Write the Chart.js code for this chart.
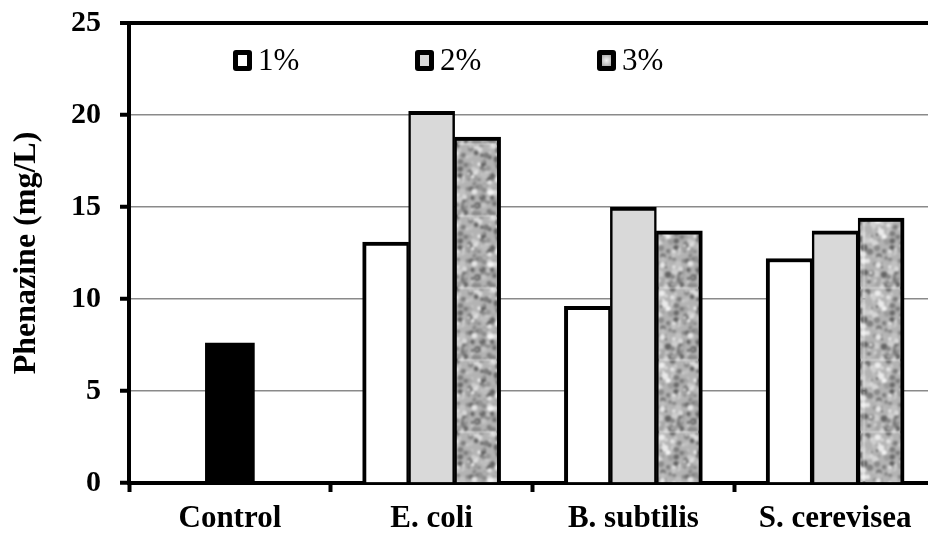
<!DOCTYPE html>
<html>
<head>
<meta charset="utf-8">
<script src="https://cdn.jsdelivr.net/npm/chart.js@4.4.1/dist/chart.umd.min.js"></script>
<style>
  html, body { margin: 0; padding: 0; background: #fff; overflow: hidden; }
  #wrap { width: 940px; height: 533px; }
</style>
</head>
<body>
<div id="wrap"><canvas id="phenazineChart"></canvas></div>
<script>
// data
const categories = ['Control', 'E. coli', 'B. subtilis', 'S. cerevisea'];
const controlValues = [7.6, null, null, null];
const onePct = [null, 13.1, 9.6, 12.2];
const twoPct = [null, 20.2, 15.0, 13.7];
const threePct = [null, 18.8, 13.7, 14.4];
const seriesLabels = ['1%', '2%', '3%'];
const yTicks = [0, 5, 10, 15, 20, 25];

const serif = '"Liberation Serif", "Times New Roman", serif';

// mottled grey fill for the 3% bars (seeded so it is the same every time)
function makeTexture() {
  const size = 72;
  const raw = document.createElement('canvas');
  raw.width = size;
  raw.height = size;
  const g = raw.getContext('2d');
  g.fillStyle = '#b3b3b3';
  g.fillRect(0, 0, size, size);
  let seed = 11;
  const rnd = () => {
    seed = (seed * 16807) % 2147483647;
    return seed / 2147483647;
  };
  for (let i = 0; i < 260; i++) {
    const x = rnd() * size, y = rnd() * size, r = 1.2 + rnd() * 2.2;
    const s = Math.floor(95 + rnd() * 150);
    g.fillStyle = `rgb(${s},${s},${s})`;
    // draw wrapped copies so the tile repeats without seams
    for (const dx of [-size, 0, size]) {
      for (const dy of [-size, 0, size]) {
        g.beginPath();
        g.arc(x + dx, y + dy, r, 0, Math.PI * 2);
        g.fill();
      }
    }
  }
  const tile = document.createElement('canvas');
  tile.width = size;
  tile.height = size;
  const t = tile.getContext('2d');
  t.filter = 'blur(1px)';
  for (const dx of [-size, 0, size]) {
    for (const dy of [-size, 0, size]) {
      t.drawImage(raw, dx, dy);
    }
  }
  return t.createPattern(tile, 'repeat');
}

function makeLegendSwatch(ctx, x, y, w, h) {
  const grad = ctx.createRadialGradient(x + w / 2, y + h / 2, 0, x + w / 2, y + h / 2, w);
  grad.addColorStop(0, '#f2f2f2');
  grad.addColorStop(1, '#8f8f8f');
  return grad;
}

function roundRect(ctx, x, y, w, h, r) {
  ctx.beginPath();
  ctx.moveTo(x + r, y);
  ctx.lineTo(x + w - r, y);
  ctx.quadraticCurveTo(x + w, y, x + w, y + r);
  ctx.lineTo(x + w, y + h - r);
  ctx.quadraticCurveTo(x + w, y + h, x + w - r, y + h);
  ctx.lineTo(x + r, y + h);
  ctx.quadraticCurveTo(x, y + h, x, y + h - r);
  ctx.lineTo(x, y + r);
  ctx.quadraticCurveTo(x, y, x + r, y);
  ctx.closePath();
}

/* legend sits inside the plot, like the original */
const legendInPlot = {
  id: 'legendInPlot',
  afterDatasetsDraw(chart) {
    const { ctx, chartArea } = chart;
    ctx.save();
    ctx.font = '31px ' + serif;
    ctx.textBaseline = 'middle';
    chart.data.datasets.slice(1).forEach((ds, i) => {
      const x = chartArea.left + 104 + i * 182;
      const y = chartArea.top + 27;
      ctx.fillStyle = '#000';
      roundRect(ctx, x, y, 19, 21, 3);
      ctx.fill();
      ctx.fillStyle = i === 2 ? makeLegendSwatch(ctx, x + 5, y + 5, 9, 11) : ds.backgroundColor;
      ctx.fillRect(x + 5, y + 5, 9, 11);
      ctx.fillStyle = '#000';
      ctx.fillText(ds.label, x + 25, y + 12);
    });
    ctx.restore();
  }
};

const ctx = document.getElementById('phenazineChart').getContext('2d');

const chart = new Chart(ctx, {
  type: 'bar',
  data: {
    labels: categories,
    datasets: [
      {
        label: 'Control',
        data: controlValues,
        backgroundColor: '#000',
        borderWidth: 0,
        barThickness: 49,
        skipNull: true
      },
      {
        label: seriesLabels[0],
        data: onePct,
        backgroundColor: '#fff',
        borderColor: '#000',
        borderWidth: { top: 4, left: 4, right: 2.5, bottom: 0 },
        barThickness: 46,
        skipNull: true
      },
      {
        label: seriesLabels[1],
        data: twoPct,
        backgroundColor: '#d9d9d9',
        borderColor: '#000',
        borderWidth: { top: 4, left: 2.5, right: 2.5, bottom: 0 },
        barThickness: 46,
        skipNull: true
      },
      {
        label: seriesLabels[2],
        data: threePct,
        backgroundColor: makeTexture(),
        borderColor: '#000',
        borderWidth: { top: 4, left: 2.5, right: 4, bottom: 0 },
        barThickness: 46,
        skipNull: true
      }
    ]
  },
  options: {
    responsive: true,
    maintainAspectRatio: false,
    animation: false,
    events: [],
    layout: { padding: { top: 23, right: 4, left: 0, bottom: 0 } },
    plugins: {
      legend: { display: false },
      tooltip: { enabled: false }
    },
    scales: {
      x: {
        z: 1,
        grid: {
          offset: true,
          drawOnChartArea: false,
          drawTicks: true,
          tickLength: 9,
          tickColor: '#000',
          tickWidth: 4
        },
        border: { color: '#000', width: 4 },
        ticks: {
          color: '#000',
          font: { family: serif, size: 31, weight: 'bold' },
          padding: 8,
          maxRotation: 0,
          autoSkip: false
        },
        afterFit(scale) {
          scale.height = 50;
          scale.paddingLeft = 0;
          scale.paddingRight = 0;
        }
      },
      y: {
        min: yTicks[0],
        max: yTicks[yTicks.length - 1],
        ticks: {
          stepSize: yTicks[1] - yTicks[0],
          color: '#000',
          font: { family: serif, size: 30, weight: 'bold' },
          padding: 19
        },
        grid: {
          color: c => (c.tick && c.tick.value === 25) ? '#000' : '#8a8a8a',
          lineWidth: c => (c.tick && c.tick.value === 25) ? 4 : 1.5,
          tickColor: '#000',
          tickWidth: 4,
          tickLength: 9
        },
        border: { color: '#000', width: 4 },
        title: {
          display: true,
          text: 'Phenazine (mg/L)',
          color: '#000',
          font: { family: serif, size: 32, weight: 'bold' },
          padding: { top: 8, bottom: 0 }
        },
        afterFit(scale) {
          scale.width = 129;
          scale.paddingTop = 0;
          scale.paddingBottom = 0;
        }
      }
    }
  },
  plugins: [legendInPlot]
});
</script>
</body>
</html>
